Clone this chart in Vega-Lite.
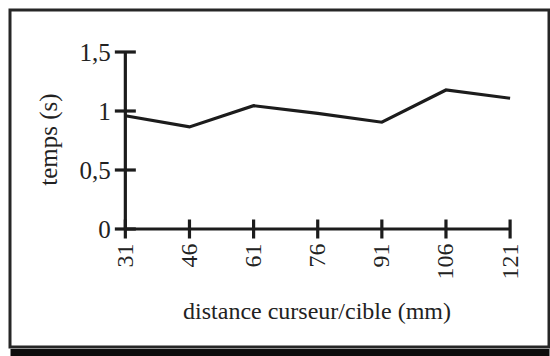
{
  "$schema": "https://vega.github.io/schema/vega-lite/v6.json",
  "width": 539,
  "height": 337,
  "autosize": {"type": "none"},
  "padding": {"left": 10, "top": 10, "right": 1, "bottom": 9},
  "background": "white",
  "config": {
    "view": {"stroke": "#262626", "strokeWidth": 3, "fill": "white"},
    "font": "Liberation Serif"
  },
  "datasets": {
    "series": [
      {"distance": 31, "temps": 0.96},
      {"distance": 46, "temps": 0.865},
      {"distance": 61, "temps": 1.045},
      {"distance": 76, "temps": 0.98},
      {"distance": 91, "temps": 0.905},
      {"distance": 106, "temps": 1.178},
      {"distance": 121, "temps": 1.108}
    ],
    "yticks": [
      {"distance": 31, "temps": 0},
      {"distance": 31, "temps": 0.5},
      {"distance": 31, "temps": 1},
      {"distance": 31, "temps": 1.5}
    ],
    "xticks": [
      {"distance": 31, "temps": 0},
      {"distance": 46, "temps": 0},
      {"distance": 61, "temps": 0},
      {"distance": 76, "temps": 0},
      {"distance": 91, "temps": 0},
      {"distance": 106, "temps": 0},
      {"distance": 121, "temps": 0}
    ]
  },
  "resolve": {"axis": {"x": "independent", "y": "independent"}},
  "layer": [
    {
      "data": {"name": "series"},
      "mark": {"type": "line", "color": "#1c1c1c", "strokeWidth": 3.2},
      "encoding": {
        "x": {
          "field": "distance",
          "type": "quantitative",
          "scale": {"domain": [4.02, 130.1], "nice": false, "zero": false},
          "axis": {
            "orient": "bottom",
            "values": [31, 46, 61, 76, 91, 106, 121],
            "offset": -118,
            "domain": false,
            "ticks": false,
            "tickSize": 0,
            "grid": false,
            "labelAngle": -90,
            "labelAlign": "right",
            "labelBaseline": "middle",
            "labelPadding": 14,
            "labelFontSize": 24,
            "labelColor": "#222222",
            "labelFont": "Liberation Serif",
            "labelFlush": false,
            "labelOverlap": false,
            "title": "distance curseur/cible (mm)",
            "titleFont": "Liberation Serif",
            "titleFontSize": 24,
            "titleFontWeight": "normal",
            "titleColor": "#222222",
            "titleX": 306.5,
            "titleY": 89,
            "titleAlign": "center",
            "titleBaseline": "alphabetic"
          }
        },
        "y": {
          "field": "temps",
          "type": "quantitative",
          "scale": {"domain": [-1.0, 1.856], "nice": false, "zero": false},
          "axis": {
            "orient": "left",
            "values": [0, 0.5, 1, 1.5],
            "labelExpr": "replace(format(datum.value, '.1~f'), '.', ',')",
            "offset": -115.3,
            "domain": false,
            "ticks": false,
            "tickSize": 0,
            "grid": false,
            "labelPadding": 15,
            "labelFontSize": 25,
            "labelColor": "#222222",
            "labelFont": "Liberation Serif",
            "labelFlush": false,
            "labelOverlap": false,
            "title": "temps (s)",
            "titleFont": "Liberation Serif",
            "titleFontSize": 25,
            "titleFontWeight": "normal",
            "titleColor": "#222222",
            "titleAngle": -90,
            "titleX": -77,
            "titleY": 129,
            "titleAlign": "center",
            "titleBaseline": "middle"
          }
        }
      }
    },
    {
      "data": {"name": "xticks"},
      "mark": {"type": "rule", "color": "#1c1c1c", "strokeWidth": 3.2},
      "encoding": {
        "x": {
          "aggregate": "min",
          "field": "distance",
          "type": "quantitative",
          "axis": {
            "orient": "bottom",
            "offset": 5.5,
            "domain": true,
            "domainColor": "#0d0d0d",
            "domainWidth": 8,
            "ticks": false,
            "labels": false,
            "grid": false,
            "title": null
          }
        },
        "x2": {"aggregate": "max", "field": "distance"},
        "y": {"aggregate": "min", "field": "temps", "type": "quantitative", "axis": null}
      }
    },
    {
      "data": {"name": "yticks"},
      "mark": {"type": "rule", "color": "#1c1c1c", "strokeWidth": 3.2},
      "encoding": {
        "x": {"aggregate": "min", "field": "distance", "type": "quantitative", "axis": null},
        "y": {"aggregate": "min", "field": "temps", "type": "quantitative", "axis": null},
        "y2": {"aggregate": "max", "field": "temps"}
      }
    },
    {
      "data": {"name": "yticks"},
      "mark": {"type": "tick", "orient": "horizontal", "size": 21, "thickness": 3.2, "color": "#1c1c1c", "opacity": 1},
      "encoding": {
        "x": {"field": "distance", "type": "quantitative", "axis": null},
        "y": {"field": "temps", "type": "quantitative", "axis": null}
      }
    },
    {
      "data": {"name": "xticks"},
      "mark": {"type": "tick", "orient": "vertical", "size": 19, "thickness": 3.2, "color": "#1c1c1c", "opacity": 1},
      "encoding": {
        "x": {"field": "distance", "type": "quantitative", "axis": null},
        "y": {"field": "temps", "type": "quantitative", "axis": null}
      }
    }
  ]
}
